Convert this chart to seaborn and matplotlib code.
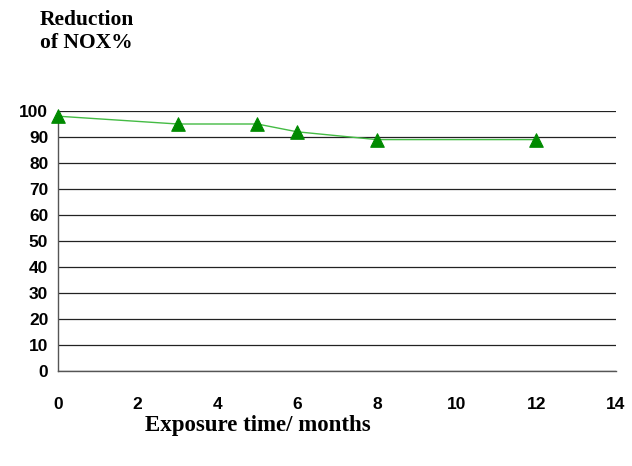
import matplotlib
matplotlib.use("Agg")
import matplotlib.pyplot as plt
import seaborn as sns
import pandas as pd

# data
months = [0, 3, 5, 6, 8, 12]
nox_reduction = [98, 95, 95, 92, 89, 89]

df = pd.DataFrame({"months": months, "reduction": nox_reduction})

sns.set_style("white")
plt.rcParams["font.family"] = ["Liberation Sans", "DejaVu Sans"]
plt.rcParams["text.color"] = "black"
plt.rcParams["xtick.labelcolor"] = "black"
plt.rcParams["ytick.labelcolor"] = "black"

fig = plt.figure(figsize=(6.32, 4.66), dpi=100)
ax = fig.add_axes([58 / 632, 1 - 371 / 466, (616 - 58) / 632, (371 - 111) / 466])

sns.lineplot(data=df, x="months", y="reduction", ax=ax, color="#44bb44", lw=1)
sns.scatterplot(data=df, x="months", y="reduction", ax=ax, marker="^", s=95,
                color="#008a00", edgecolor="#008a00", zorder=5, clip_on=False)

ax.set_xlim(0, 14)
ax.set_ylim(0, 100)
ax.set_xticks(range(0, 15, 2))
ax.set_yticks(range(0, 101, 10))
ax.yaxis.grid(True, color="#222222", lw=0.9)
ax.set_axisbelow(True)

for s in ["top", "right"]:
    ax.spines[s].set_visible(False)
for s in ["left", "bottom"]:
    ax.spines[s].set_color("#555555")
    ax.spines[s].set_linewidth(1)

ax.tick_params(axis="x", direction="out", length=4, color="#555555", pad=15)
ax.tick_params(axis="y", direction="out", length=4, color="#555555", pad=3)
for lab in ax.get_xticklabels() + ax.get_yticklabels():
    lab.set_fontweight("bold")
    lab.set_fontsize(12.5)

ax.set_xlabel("")
ax.set_ylabel("")

fig.text(40 / 632, 1 - 10 / 466, "Reduction\nof NOX%", ha="left", va="top",
         family="Liberation Serif", fontweight="bold", fontsize=15.5, linespacing=1.2)
fig.text(145 / 632, 1 - 426 / 466, "Exposure time/ months", ha="left", va="center",
         family="Liberation Serif", fontweight="bold", fontsize=16.5)

fig.savefig("out.png", dpi=100)
